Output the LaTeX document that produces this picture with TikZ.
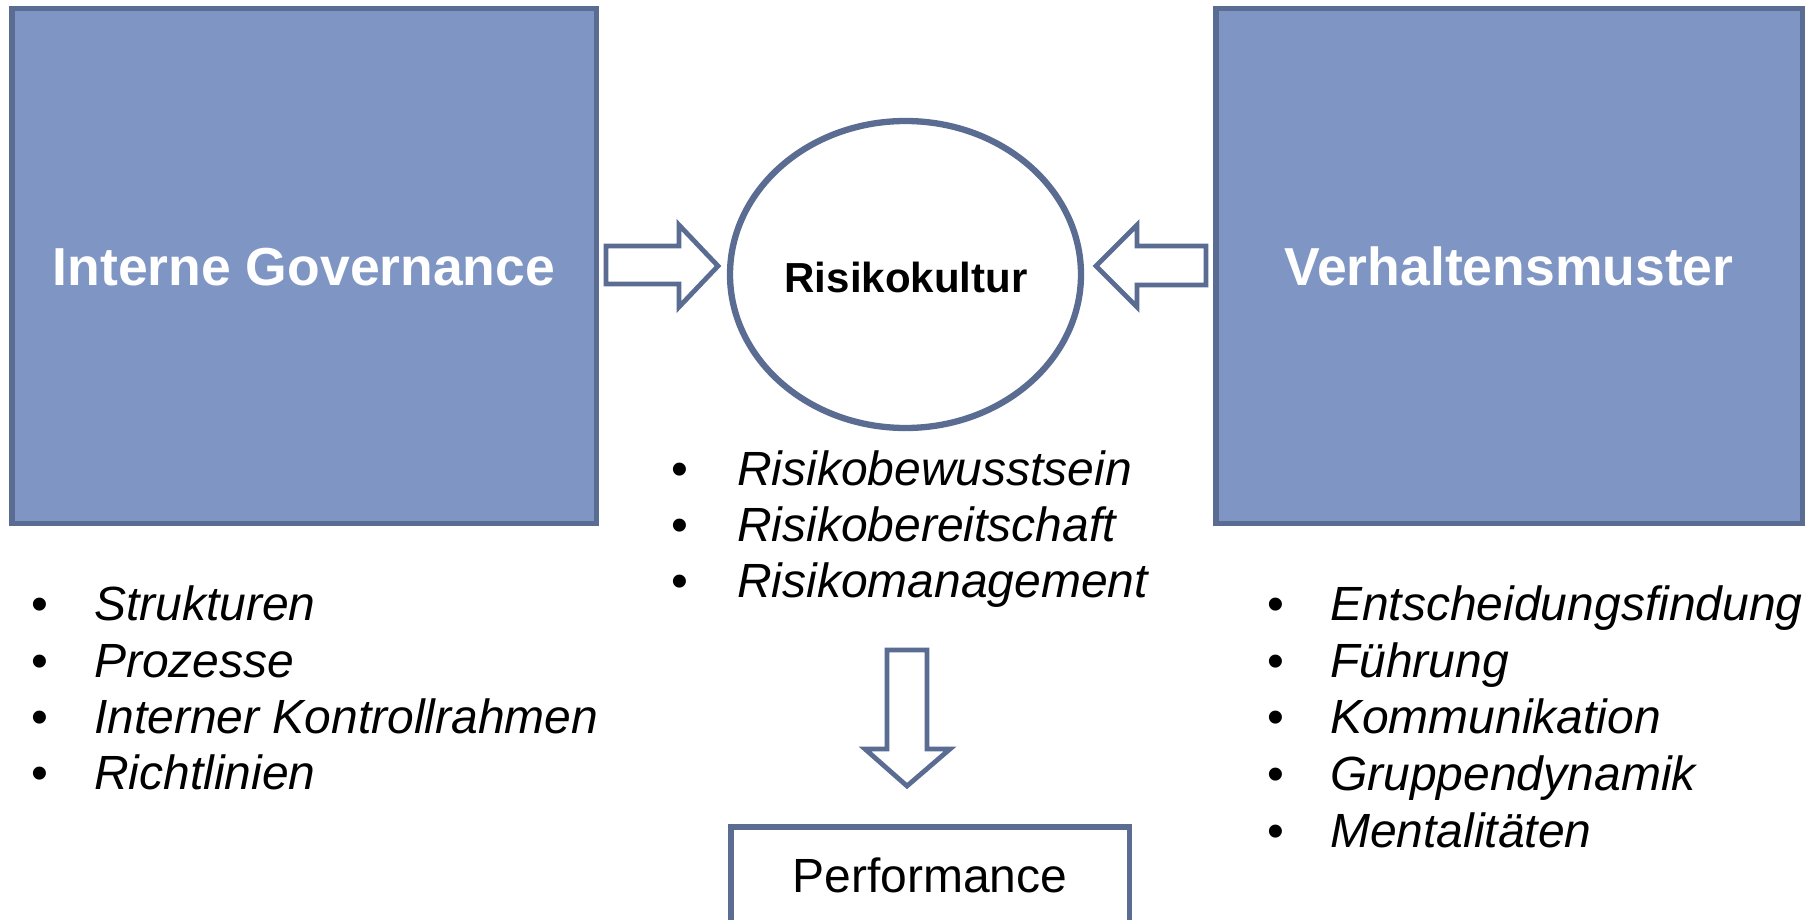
\documentclass[tikz,border=0pt]{standalone}
\usepackage{fontspec}
\setmainfont{Liberation Sans}
\definecolor{edgeblue}{RGB}{90,108,146}
\definecolor{fillblue}{RGB}{127,150,196}
\tikzset{
  bigbox/.style={draw=edgeblue, fill=fillblue, line width=5.5pt},
  boxtitle/.style={text=white, font=\fontsize{53.5}{60}\selectfont\bfseries, anchor=base},
  blockarrow/.style={draw=edgeblue, fill=white, line width=4.8pt, line join=miter},
  item/.style={font=\fontsize{48}{56}\selectfont\itshape, anchor=base west, inner sep=0pt},
  bul/.style={font=\fontsize{48}{56}\selectfont, anchor=base, inner sep=0pt},
}
\begin{document}
\begin{tikzpicture}[x=1pt,y=-1pt]
\useasboundingbox (0,0) rectangle (1816,920);
\clip (0,0) rectangle (1816,920);
\fill[white] (0,0) rectangle (1816,920);
% boxes
\draw[bigbox] (11.75,8.75) rectangle (596.25,523.25);
\node[boxtitle] (ig) at (304,285) {Interne Governance};
\draw[bigbox] (1215.75,8.75) rectangle (1802.25,523.25);
\node[boxtitle] (vm) at (1509,285) {Verhaltensmuster};
% ellipse
\draw[edgeblue, line width=6.3pt, fill=white] (905.5,274.5) ellipse [x radius=175.5, y radius=153.5];
\node[font=\fontsize{42}{50}\selectfont\bfseries, anchor=base] (rk) at (906,292) {Risikokultur};
% block arrows
\draw[blockarrow] (606,246) -- (679,246) -- (679,225) -- (718,266) -- (679,307) -- (679,284) -- (606,284) -- cycle;
\draw[blockarrow] (1206,246) -- (1137,246) -- (1137,225) -- (1096,266) -- (1137,307) -- (1137,285) -- (1206,285) -- cycle;
\draw[blockarrow] (887,650) -- (927,650) -- (927,749) -- (950,749) -- (907,786) -- (865,749) -- (887,749) -- cycle;
% performance box
\draw[edgeblue, line width=5.5pt, fill=white] (730.75,826.75) rectangle (1129.25,960);
\node[font=\fontsize{48}{56}\selectfont, anchor=base] (pf) at (930,892) {Performance};
% left list
\foreach \t/\y [count=\i] in {Strukturen/620, Prozesse/677, Interner Kontrollrahmen/733, Richtlinien/789}{
  \node[bul] (lb\i) at (40,\y) {•};
  \node[item] (li\i) at (94,\y) {\t};
}
% middle list
\foreach \t/\y [count=\i] in {Risikobewusstsein/485, Risikobereitschaft/541, Risikomanagement/597}{
  \node[bul] (mb\i) at (680,\y) {•};
  \node[item] (mi\i) at (737,\y) {\t};
}
% right list
\foreach \t/\y [count=\i] in {Entscheidungsfindung/620, Führung/677, Kommunikation/733, Gruppendynamik/790, Mentalitäten/847}{
  \node[bul] (rb\i) at (1276,\y) {•};
  \node[item] (ri\i) at (1330,\y) {\t};
}
\end{tikzpicture}
\end{document}
